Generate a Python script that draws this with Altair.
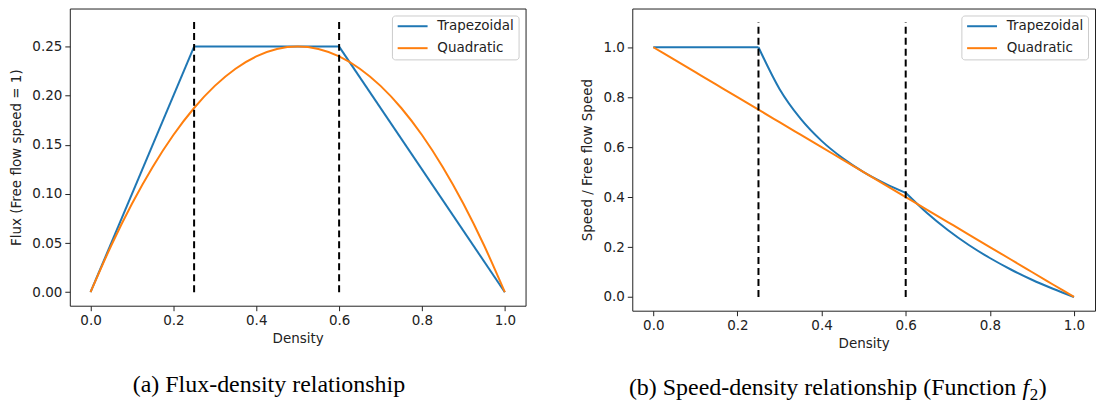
import altair as alt
import pandas as pd

# ---------------- data ----------------
density = [0.0, 0.05, 0.10, 0.15, 0.20, 0.25, 0.30, 0.35, 0.40, 0.45, 0.50,
           0.55, 0.60, 0.65, 0.70, 0.75, 0.80, 0.85, 0.90, 0.95, 1.0]

# trapezoidal flux corner points (free flow / capacity / congested pieces)
flux_free_density = [0.0, 0.25]
flux_free = [0.0, 0.25]
flux_cap_density = [0.25, 0.60]
flux_cap = [0.25, 0.25]
flux_cong_density = [0.60, 1.0]
flux_cong = [0.25, 0.0]
flux_quadratic = [0.0, 0.0475, 0.09, 0.1275, 0.16, 0.1875, 0.21, 0.2275, 0.24, 0.2475, 0.25,
                  0.2475, 0.24, 0.2275, 0.21, 0.1875, 0.16, 0.1275, 0.09, 0.0475, 0.0]

# trapezoidal speed, in the same three pieces
speed_free_density = [0.0, 0.25]
speed_free = [1.0, 1.0]
speed_cap_density = [0.25, 0.30, 0.35, 0.40, 0.45, 0.50, 0.55, 0.60]
speed_cap = [1.0, 0.833, 0.714, 0.625, 0.556, 0.50, 0.455, 0.417]
speed_cong_density = [0.60, 0.65, 0.70, 0.75, 0.80, 0.85, 0.90, 0.95, 1.0]
speed_cong = [0.417, 0.337, 0.268, 0.208, 0.156, 0.110, 0.069, 0.033, 0.0]
speed_quadratic = [1.0, 0.95, 0.90, 0.85, 0.80, 0.75, 0.70, 0.65, 0.60, 0.55, 0.50,
                   0.45, 0.40, 0.35, 0.30, 0.25, 0.20, 0.15, 0.10, 0.05, 0.0]

critical_density = [0.25, 0.60]
flux_marker_top = 0.275
speed_marker_top = 1.1

series_names = ["Trapezoidal", "Quadratic"]
series_colors = ["#1f77b4", "#ff7f0e"]

x_ticks = [0.0, 0.2, 0.4, 0.6, 0.8, 1.0]
flux_ticks = [0.0, 0.05, 0.10, 0.15, 0.20, 0.25]
speed_ticks = [0.0, 0.2, 0.4, 0.6, 0.8, 1.0]

caption_a = "(a) Flux-density relationship"
caption_b_main = "(b) Speed-density relationship (Function "
caption_b_f = "f"
caption_b_sub = "2"
caption_b_end = ")"


# ---------------- tables ----------------
def pieces(parts):
    frames = [pd.DataFrame({"density": d, "value": v, "piece": p}) for p, (d, v) in parts.items()]
    out = pd.concat(frames, ignore_index=True)
    out["series"] = "Trapezoidal"
    return out


flux_trap_df = pieces({"a": (flux_free_density, flux_free),
                       "b": (flux_cap_density, flux_cap),
                       "c": (flux_cong_density, flux_cong)})
flux_quad_df = pd.DataFrame({"density": density, "value": flux_quadratic, "series": "Quadratic"})
speed_trap_df = pieces({"a": (speed_free_density, speed_free),
                        "b": (speed_cap_density, speed_cap),
                        "c": (speed_cong_density, speed_cong)})
speed_quad_df = pd.DataFrame({"density": density, "value": speed_quadratic, "series": "Quadratic"})
flux_rules = pd.DataFrame({"x": critical_density, "y0": [0.0] * 2, "y1": [flux_marker_top] * 2})
speed_rules = pd.DataFrame({"x": critical_density, "y0": [0.0] * 2, "y1": [speed_marker_top] * 2})

TXT = "#222222"
SANS = "DejaVu Sans"
SERIF = "Liberation Serif"


def color_enc():
    return alt.Color(
        "series:N",
        scale=alt.Scale(domain=series_names, range=series_colors),
        legend=alt.Legend(
            title=None, orient="top-right", offset=7,
            symbolType="M-1,0L5,0", symbolSize=100, symbolStrokeWidth=2,
            labelFont=SANS, labelFontSize=13.5, labelColor=TXT, labelOffset=28,
            fillColor="white", strokeColor="#cccccc", cornerRadius=3,
            padding=4, rowPadding=7,
        ),
    )


def panel(trap_df, quad_df, rules_df, ydomain, yticks, yfmt, ytitle, w, h):
    x = alt.X("density:Q", scale=alt.Scale(domain=[-0.05, 1.05], nice=False, zero=False),
              axis=alt.Axis(values=x_ticks, format=".1f", title="Density"))
    y = alt.Y("value:Q", scale=alt.Scale(domain=ydomain, nice=False, zero=False),
              axis=alt.Axis(values=yticks, format=yfmt, title=ytitle))
    trap = alt.Chart(trap_df).mark_line(strokeWidth=2, clip=True, interpolate="monotone").encode(
        x=x, y=y, color=color_enc(), detail="piece:N")
    quad = alt.Chart(quad_df).mark_line(strokeWidth=2, clip=True, interpolate="monotone").encode(
        x=x, y=y, color=color_enc())
    rules = alt.Chart(rules_df).mark_rule(color="black", strokeWidth=2, strokeDash=[7, 4]).encode(
        x=alt.X("x:Q"), y=alt.Y("y0:Q"), y2="y1:Q")
    return alt.layer(trap, quad, rules).properties(width=w, height=h)


def text_layer(txt, x, y, size=24, align="left", italic=False):
    return alt.Chart(pd.DataFrame({"t": [txt]})).mark_text(
        font=SERIF, fontSize=size, color="black", align=align, baseline="alphabetic",
        fontStyle="italic" if italic else "normal",
    ).encode(text="t:N", x=alt.value(x), y=alt.value(y))


left = panel(flux_trap_df, flux_quad_df, flux_rules,
             [-0.01375, 0.28875], flux_ticks, ".2f", "Flux (Free flow speed = 1)", 457, 298)
left = alt.layer(
    left,
    text_layer(caption_a, 199.7, 385, align="center"),
    alt.Chart(pd.DataFrame({"a": [0]})).mark_rule(color="white", strokeWidth=1).encode(
        x=alt.value(200), x2=alt.value(210), y=alt.value(-3), y2=alt.value(-3)),
)

right = panel(speed_trap_df, speed_quad_df, speed_rules,
              [-0.055, 1.155], speed_ticks, ".1f", "Speed / Free flow Speed", 464, 303)
bx = -3.4
right = alt.layer(
    right,
    text_layer(caption_b_main, bx, 387.7),
    text_layer(caption_b_f, bx + 394.6, 387.7, italic=True),
    text_layer(caption_b_sub, bx + 402.0, 392.7, size=17),
    text_layer(caption_b_end, bx + 411.0, 387.7),
)

chart = alt.hconcat(left, right, spacing=54).resolve_scale(color="independent").properties(
    padding={"left": 9, "top": 4, "right": 0, "bottom": 0},
    background="white",
).configure_view(stroke="#222222", strokeWidth=1).configure_axis(
    labelFont=SANS, labelFontSize=13.5, labelColor=TXT,
    titleFont=SANS, titleFontSize=13.5, titleFontWeight="normal", titleColor=TXT,
    tickSize=5, tickColor=TXT, tickWidth=1, labelPadding=3,
    domain=False, grid=False, titlePadding=8,
).configure_axisX(titlePadding=4)

chart.save("out.html", embed_options={"renderer": "svg", "actions": False})
